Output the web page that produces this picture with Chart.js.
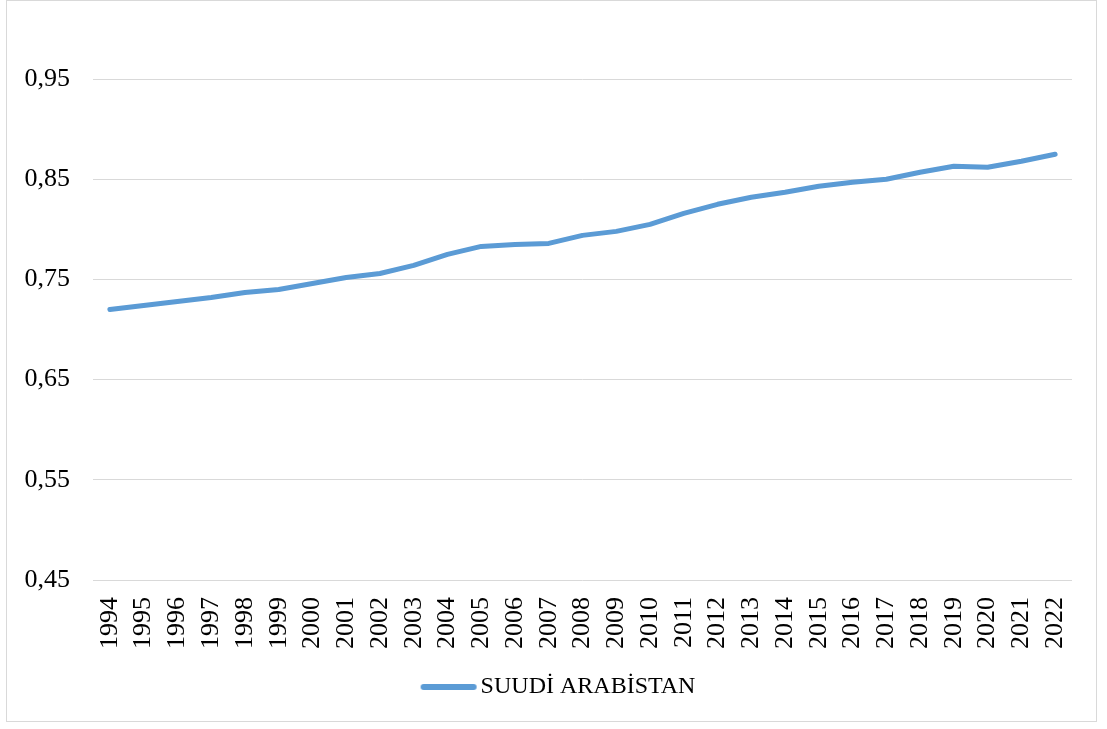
<!DOCTYPE html>
<html>
<head>
<meta charset="utf-8">
<script src="https://cdn.jsdelivr.net/npm/chart.js@4.4.1/dist/chart.umd.min.js"></script>
<style>
html,body{margin:0;padding:0;background:#fff;}
#wrap{position:absolute;left:0;top:0;width:1107px;height:729px;}
</style>
</head>
<body>
<div id="wrap"><canvas id="c" width="1107" height="729"></canvas></div>
<script>
const years = ["1994","1995","1996","1997","1998","1999","2000","2001","2002","2003","2004","2005","2006","2007","2008","2009","2010","2011","2012","2013","2014","2015","2016","2017","2018","2019","2020","2021","2022"];
const seriesName = "SUUDİ ARABİSTAN";
const values = [0.720,0.724,0.728,0.732,0.737,0.740,0.746,0.752,0.756,0.764,0.775,0.783,0.785,0.786,0.794,0.798,0.805,0.816,0.825,0.832,0.837,0.843,0.847,0.850,0.857,0.863,0.862,0.868,0.875];
const yTicks = [0.45,0.55,0.65,0.75,0.85,0.95];
const yMin = 0.45, yMax = 1.0;

const LINE_COLOR = '#5b9bd5';
const FONT = '"Liberation Serif", "Times New Roman", serif';

// legend marker image: a thick rounded line
const marker = document.createElement('canvas');
marker.width = 70; marker.height = 10;
(function(){
  const m = marker.getContext('2d');
  m.strokeStyle = LINE_COLOR; m.lineWidth = 6; m.lineCap = 'round';
  m.beginPath(); m.moveTo(15,5); m.lineTo(65,5); m.stroke();
})();

const framePlugin = {
  id:'frame',
  beforeDraw(chart){
    const ctx = chart.ctx;
    ctx.save();
    ctx.fillStyle = '#fff';
    ctx.fillRect(0,0,chart.width,chart.height);
    ctx.restore();
  },
  afterDraw(chart){
    const ctx = chart.ctx;
    ctx.save();
    ctx.strokeStyle = '#d9d9d9';
    ctx.lineWidth = 1;
    ctx.strokeRect(6.5,0.5,1090,721);
    ctx.restore();
  }
};

new Chart(document.getElementById('c'), {
  type:'line',
  data:{
    labels: years,
    datasets:[{
      label: seriesName,
      data: values,
      borderColor: LINE_COLOR,
      backgroundColor: LINE_COLOR,
      borderWidth:5,
      borderCapStyle:'round',
      borderJoinStyle:'round',
      pointRadius:0,
      pointStyle: marker,
      tension:0,
      fill:false
    }]
  },
  options:{
    responsive:false,
    animation:false,
    devicePixelRatio:1,
    layout:{padding:{left:42,right:35,top:29,bottom:20}},
    plugins:{
      tooltip:{enabled:false},
      legend:{
        position:'bottom',
        labels:{
          font:{family:FONT, size:24},
          color:'#000',
          usePointStyle:true,
          pointStyleWidth:50,
          boxHeight:10,
          padding:10
        }
      }
    },
    scales:{
      x:{
        offset:true,
        grid:{display:false,drawTicks:false},
        border:{display:false},
        ticks:{
          font:{family:FONT, size:26},
          color:'#000',
          minRotation:90,maxRotation:90,
          autoSkip:false,
          padding:17
        },
        afterFit(scale){ scale.height = 85; scale.paddingLeft = 0; scale.paddingRight = 0; }
      },
      y:{
        min:yMin,max:yMax,
        grid:{color:'#d9d9d9',lineWidth:1,drawTicks:false},
        border:{display:false},
        afterBuildTicks(scale){ scale.ticks = yTicks.map(v=>({value:v})); },
        ticks:{
          font:{family:FONT, size:26},
          color:'#000',
          padding:23,
          callback:(v)=>Number(v).toFixed(2).replace('.',',')
        },
        afterFit(scale){
          scale.width = 51; scale.paddingTop = 0; scale.paddingBottom = 0;
          scale._computeLabelArea = function(){ return undefined; };
        }
      }
    }
  },
  plugins:[framePlugin]
});
</script>
</body>
</html>
